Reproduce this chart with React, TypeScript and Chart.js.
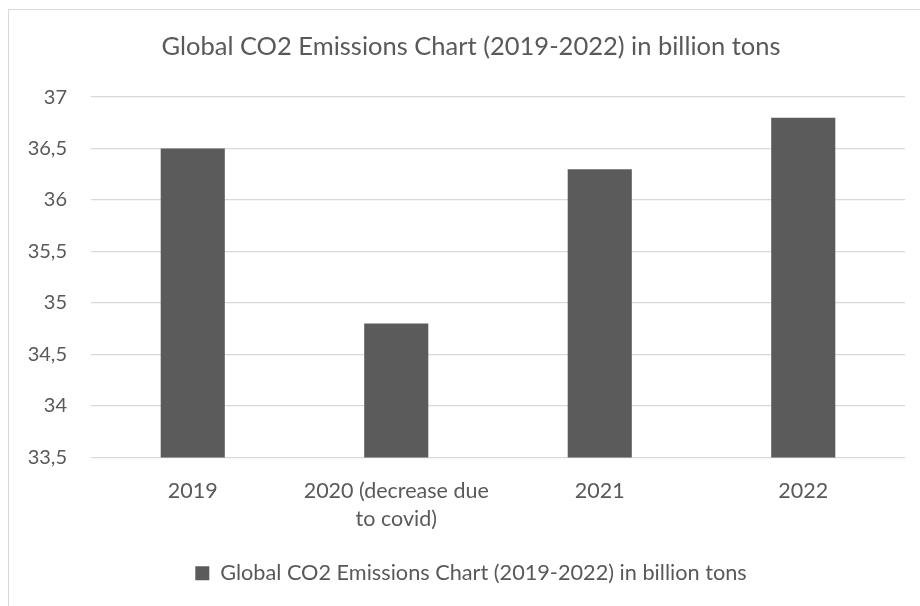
import React, { useEffect, useRef } from "react";
import { Chart, registerables } from "chart.js";

Chart.register(...registerables);

const categories: (string | string[])[] = ["2019", ["2020 (decrease due", "to covid)"], "2021", "2022"];
const seriesLabel = "Global CO2 Emissions Chart (2019-2022) in billion tons";
const emissions = [36.5, 34.8, 36.3, 36.8];
const yMin = 33.5;
const yMax = 37;
const yStep = 0.5;

const TEXT = "#595959";
const BAR = "#5b5b5b";
const GRID = "#d9d9d9";
const FONT = "Lato, 'Open Sans', sans-serif";

export default function App() {
  const ref = useRef<HTMLCanvasElement | null>(null);

  useEffect(() => {
    if (!ref.current) return;
    const chart = new Chart(ref.current, {
      type: "bar",
      data: {
        labels: categories,
        datasets: [
          {
            label: seriesLabel,
            data: emissions,
            backgroundColor: BAR,
            borderWidth: 0,
            categoryPercentage: 1,
            barPercentage: 0.315,
          },
        ],
      },
      options: {
        animation: false,
        responsive: false,
        maintainAspectRatio: false,
        layout: { padding: { left: 0, right: 0, top: 0, bottom: 12 } },
        plugins: {
          tooltip: { enabled: false },
          title: {
            display: true,
            text: seriesLabel,
            color: TEXT,
            font: { family: FONT, size: 25.5, weight: "normal" },
            padding: { top: 31.5, bottom: 35 },
          },
          legend: {
            display: true,
            position: "bottom",
            labels: {
              color: TEXT,
              font: { family: FONT, size: 21.7 },
              boxWidth: 14,
              boxHeight: 14,
              padding: 17,
            },
          },
        },
        scales: {
          x: {
            grid: { display: false },
            border: { display: false },
            ticks: {
              color: TEXT,
              font: { family: FONT, size: 21.5, lineHeight: 1.3 },
              padding: 12,
              maxRotation: 0,
              minRotation: 0,
              autoSkip: false,
            },
          },
          y: {
            min: yMin,
            max: yMax,
            border: { display: false },
            grid: { color: GRID, lineWidth: 1.3, drawTicks: false },
            afterFit: (axis: any) => {
              axis.width = 91;
            },
            ticks: {
              stepSize: yStep,
              color: TEXT,
              font: { family: FONT, size: 20 },
              padding: 24,
              callback: (v: any) => String(v).replace(".", ","),
            },
          },
          spacer: {
            type: "linear",
            position: "right",
            display: true,
            grid: { display: false, drawTicks: false },
            border: { display: false },
            ticks: { display: false },
            afterFit: (axis: any) => {
              axis.width = 37;
            },
          },
        },
      },
    });
    return () => chart.destroy();
  }, []);

  return (
    <div
      style={{
        position: "fixed",
        left: 0,
        top: 0,
        width: 920,
        height: 606,
        overflow: "hidden",
        background: "#fff",
      }}
    >
      <div
        style={{
          position: "absolute",
          left: 8,
          top: 9,
          width: 940,
          height: 700,
          border: "1px solid #d9d9d9",
          boxSizing: "border-box",
        }}
      />
      <canvas
        ref={ref}
        width={942}
        height={606}
        style={{ position: "absolute", left: 0, top: 0, width: 942, height: 606 }}
      />
    </div>
  );
}
